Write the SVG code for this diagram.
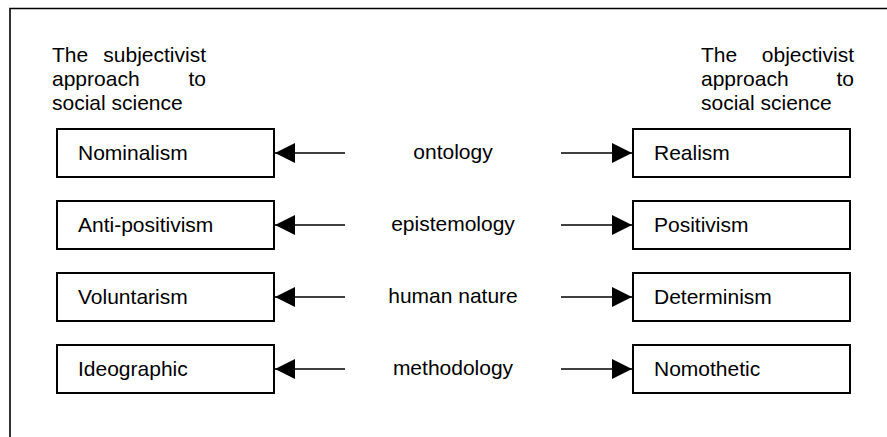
<svg xmlns="http://www.w3.org/2000/svg" width="887" height="437" viewBox="0 0 887 437">
<style>
text{font-family:"Liberation Sans",Arial,sans-serif;font-size:21px;fill:#000}
.box{fill:#fff;stroke:#000;stroke-width:2}
.line{stroke:#000;stroke-width:1.6;fill:none}
.mid{text-anchor:middle}
.end{text-anchor:end}
</style>
<defs>
<marker id="ah" viewBox="0 0 20 20" refX="20" refY="10" markerWidth="20" markerHeight="20" markerUnits="userSpaceOnUse" orient="auto">
<path d="M0,0 L20,10 L0,20 Z" fill="#000"/>
</marker>
</defs>
<rect width="887" height="437" fill="#fff"/>
<g id="frame">
<path class="line" d="M10,437 V8.5 H887" stroke-width="2"/>
</g>
<g id="subjectivist-title">
<text x="52" y="62">The</text><text x="206" y="62" class="end">subjectivist</text>
<text x="52" y="86">approach</text><text x="206" y="86" class="end">to</text>
<text x="52" y="110">social science</text>
</g>
<g id="objectivist-title">
<text x="701" y="62">The</text><text x="854" y="62" class="end">objectivist</text>
<text x="701" y="86">approach</text><text x="854" y="86" class="end">to</text>
<text x="701" y="110">social science</text>
</g>
<g id="nominalism"><rect class="box" x="57" y="129" width="217" height="48"/><text x="78" y="160">Nominalism</text></g>
<g id="anti-positivism"><rect class="box" x="57" y="201" width="217" height="48"/><text x="78" y="232">Anti-positivism</text></g>
<g id="voluntarism"><rect class="box" x="57" y="273" width="217" height="48"/><text x="78" y="304">Voluntarism</text></g>
<g id="ideographic"><rect class="box" x="57" y="345" width="217" height="48"/><text x="78" y="376">Ideographic</text></g>
<g id="realism"><rect class="box" x="633" y="129" width="217" height="48"/><text x="654" y="160">Realism</text></g>
<g id="positivism"><rect class="box" x="633" y="201" width="217" height="48"/><text x="654" y="232">Positivism</text></g>
<g id="determinism"><rect class="box" x="633" y="273" width="217" height="48"/><text x="654" y="304">Determinism</text></g>
<g id="nomothetic"><rect class="box" x="633" y="345" width="217" height="48"/><text x="654" y="376">Nomothetic</text></g>
<g id="ontology"><text class="mid" x="453" y="159">ontology</text></g>
<g id="epistemology"><text class="mid" x="453" y="231">epistemology</text></g>
<g id="human-nature"><text class="mid" x="453" y="303">human nature</text></g>
<g id="methodology"><text class="mid" x="453" y="375">methodology</text></g>
<g id="connectors">
<line class="line" x1="345" y1="153" x2="275" y2="153" marker-end="url(#ah)"/>
<line class="line" x1="561" y1="153" x2="632" y2="153" marker-end="url(#ah)"/>
<line class="line" x1="345" y1="225" x2="275" y2="225" marker-end="url(#ah)"/>
<line class="line" x1="561" y1="225" x2="632" y2="225" marker-end="url(#ah)"/>
<line class="line" x1="345" y1="297" x2="275" y2="297" marker-end="url(#ah)"/>
<line class="line" x1="561" y1="297" x2="632" y2="297" marker-end="url(#ah)"/>
<line class="line" x1="345" y1="369" x2="275" y2="369" marker-end="url(#ah)"/>
<line class="line" x1="561" y1="369" x2="632" y2="369" marker-end="url(#ah)"/>
</g>
</svg>
